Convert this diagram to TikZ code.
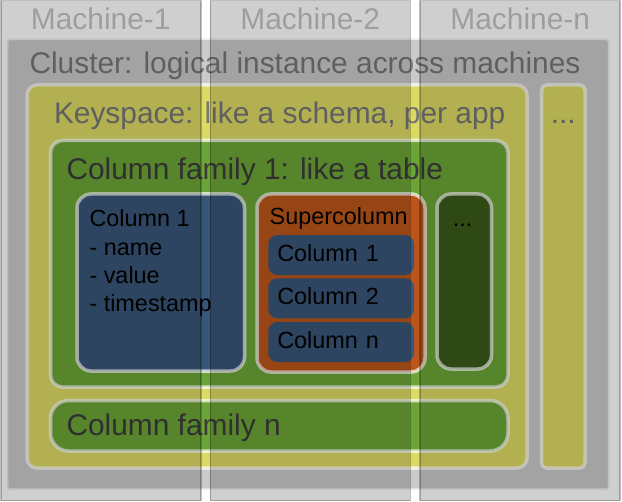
\documentclass[tikz,border=0pt]{standalone}
\usepackage{fontspec}
\setmainfont{Liberation Sans}
\usetikzlibrary{positioning}

\definecolor{clustergray}{HTML}{CACACA}
\definecolor{keyspaceyellow}{HTML}{DCDA64}
\definecolor{familygreen}{HTML}{6CA537}
\definecolor{columnblue}{HTML}{385677}
\definecolor{superorange}{HTML}{BC551B}
\definecolor{moregreen}{HTML}{3A5B1B}
\definecolor{titlegray}{HTML}{767676}
\definecolor{familytext}{HTML}{3B3B3B}
\definecolor{machinetext}{HTML}{9E9E9E}

\newcommand{\bigfont}{\fontsize{30}{36}\selectfont}
\newcommand{\smallfont}{\fontsize{23.5}{28.4}\selectfont}

\begin{document}
\begin{tikzpicture}[x=1bp, y=-1bp,
    every node/.style={inner sep=0pt, outer sep=0pt},
    box/.style={draw=white, draw opacity=0.7, line width=3.5bp, anchor=north west},
    subcol/.style={fill=columnblue, rounded corners=9bp, minimum height=40bp, inner xsep=9bp,
        text width=127.7bp, align=left, text height=17bp, text depth=4bp, font=\smallfont},
    title/.style={anchor=base west, font=\bigfont},
    machine/.style={fill=black, fill opacity=0.19, draw=black, draw opacity=0.25, line width=1.5bp,
        minimum width=200bp, minimum height=499.75bp, anchor=north west}]
    \useasboundingbox (0,0) rectangle (622,502);

    % cluster and keyspaces
    \node (cluster) at (6.5,38.5) [box, fill=clustergray, rounded corners=3bp, minimum width=603bp, minimum height=451.5bp] {};
    \node (keyspace) at (27,85) [box, fill=keyspaceyellow, rounded corners=10bp, minimum width=500bp, minimum height=383bp] {};
    \node (ksmore) at (541.5,85) [box, fill=keyspaceyellow, rounded corners=5bp, minimum width=43.5bp, minimum height=383bp] {};

    % column families
    \node (cf1) at (50.5,140.5) [box, fill=familygreen, rounded corners=12bp, minimum width=457.5bp, minimum height=246.5bp] {};
    \node (cfn) at (50.5,400.5) [box, fill=familygreen, rounded corners=18bp, minimum width=457.5bp, minimum height=50.5bp] {};

    % columns
    \node (col1) at (77,194) [box, fill=columnblue, rounded corners=14bp, minimum width=167.5bp, minimum height=177bp] {};
    \node (super) at (257,194) [box, fill=superorange, rounded corners=14bp, minimum width=168bp, minimum height=178bp] {};
    \node (cfmore) at (437,194) [box, fill=moregreen, rounded corners=14bp, minimum width=54.5bp, minimum height=175bp] {};

    \node (sc1) at (268.3,235) [subcol, anchor=north west] {Column 1};
    \node (sc2) [subcol, below=3.3bp of sc1] {Column 2};
    \node (scn) [subcol, below=3.7bp of sc2] {Column n};

    % labels
    \node (clustertitle) at (29.5,74) [title, text=titlegray] {Cluster: logical instance across machines};
    \node (kstitle) at (54,124) [title, text=titlegray] {Keyspace: like a schema, per app};
    \node (ksmoretext) at (563.3,124) [anchor=base, font=\bigfont, text=titlegray] {...};
    \node (cf1title) at (66.5,180) [title, text=familytext] {Column family 1: like a table};
    \node (cfntitle) at (66.5,435) [title, text=familytext] {Column family n};
    \node (col1text) at (89.5,210) [anchor=north west, align=left, font=\smallfont] {Column 1\\- name\\- value\\- timestamp};
    \node (supertitle) at (269.7,225) [anchor=base west, font=\smallfont] {Supercolumn};
    \node (cfmoretext) at (462.5,226.7) [anchor=base, font=\smallfont] {...};

    % machines laid over the cluster
    \node (m1) at (0.75,0.75) [machine] {};
    \node (m2) [machine, right=9.5bp of m1] {};
    \node (m3) [machine, right=9.5bp of m2] {};
    \node (m1label) at (100.75,30) [anchor=base, font=\bigfont, text=machinetext] {Machine-1};
    \node (m2label) at (310.25,30) [anchor=base, font=\bigfont, text=machinetext] {Machine-2};
    \node (m3label) at (520.25,30) [anchor=base, font=\bigfont, text=machinetext] {Machine-n};
\end{tikzpicture}
\end{document}
